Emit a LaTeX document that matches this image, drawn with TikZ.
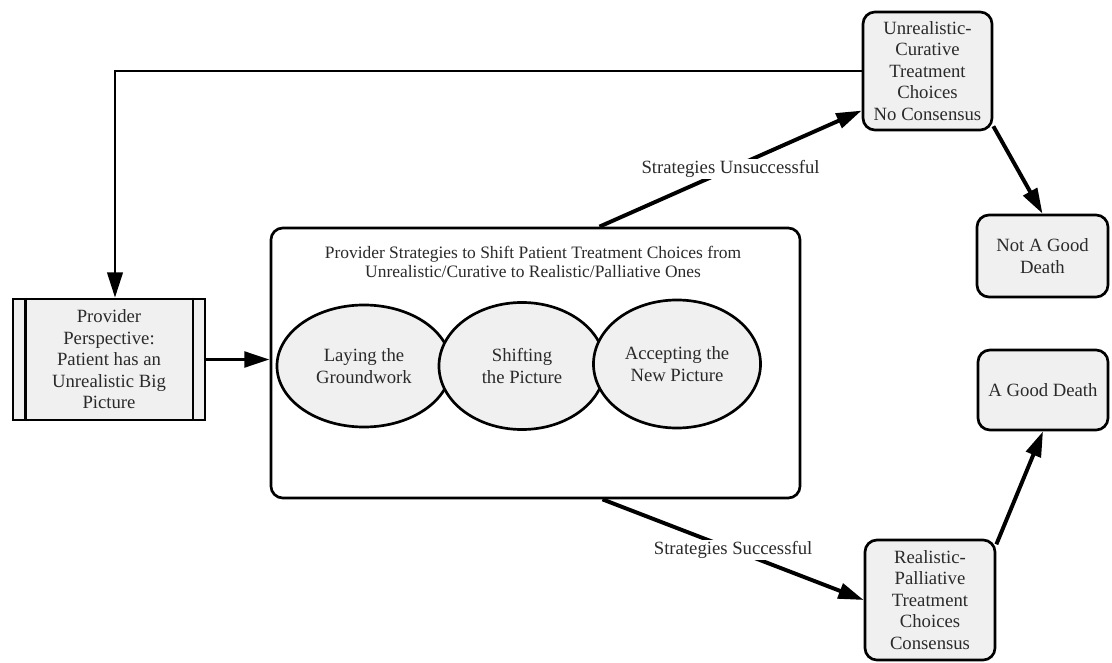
\documentclass[tikz,border=0pt]{standalone}
\usepackage{fontspec}
\setmainfont{Liberation Serif}
\usetikzlibrary{arrows.meta,shapes.geometric}

\definecolor{boxgray}{HTML}{F0F0F0}
\definecolor{txtgray}{HTML}{2A2A2A}

\tikzset{
  outcome/.style={rectangle, rounded corners=0.3cm, draw, line width=1.9pt, fill=boxgray, align=center, text=txtgray, font=\fontsize{13.3}{15.3}\selectfont, inner sep=1pt},
  phase/.style={ellipse, draw, line width=1.9pt, fill=boxgray, align=center, text=txtgray, font=\fontsize{13.3}{15.3}\selectfont},
  flow/.style={-{Triangle[length=18pt,width=11pt]}, line width=2.8pt},
  lbl/.style={fill=white, text=txtgray, font=\fontsize{13.3}{15.3}\selectfont, inner sep=1pt}
}

\begin{document}
\begin{tikzpicture}[x=0.025cm, y=-0.025cm]
			\useasboundingbox (0,0) rectangle (1112,663);
			
			% Starting perspective (box with double sides)
			\node[rectangle, draw, line width=1.9pt, fill=boxgray, minimum width=4.8cm, minimum height=3.025cm, align=center, text=txtgray, font=\fontsize{13.3}{15.3}\selectfont, inner sep=1pt] (prov) at (109,359.5) {Provider\\Perspective:\\Patient has an\\Unrealistic Big\\Picture};
			\draw[line width=1.9pt] ([xshift=0.35cm]prov.north west) -- ([xshift=0.35cm]prov.south west);
			\draw[line width=1.9pt] ([xshift=-0.33cm]prov.north east) -- ([xshift=-0.33cm]prov.south east);
			
			% Big strategies box
			\node[rectangle, rounded corners=0.3cm, draw, line width=1.9pt, fill=white, minimum width=13.225cm, minimum height=6.75cm] (strat) at (535.5,363) {};
			\node[text=txtgray, align=center, font=\fontsize{12.4}{14}\selectfont] (title) at (533,262) {Provider Strategies to Shift Patient Treatment Choices from\\Unrealistic/Curative to Realistic/Palliative Ones};
			
			% Three phases
			\node[phase, minimum width=4.35cm, minimum height=3.05cm] (lay) at (364,366) {Laying the\\Groundwork};
			\node[phase, minimum width=4.15cm, minimum height=3.175cm] (shift) at (522,366) {Shifting\\the Picture};
			\node[phase, minimum width=4.175cm, minimum height=3.2cm] (accept) at (677,364) {Accepting the\\New Picture};
			
			% Treatment choices and outcomes
			\node[outcome, minimum width=3.225cm, minimum height=2.95cm] (unreal) at (927.5,71) {Unrealistic-\\Curative\\Treatment\\Choices\\No Consensus};
			\node[outcome, minimum width=3.275cm, minimum height=2.05cm] (notgood) at (1042.5,256) {Not A Good\\Death};
			\node[outcome, minimum width=3.25cm, minimum height=2cm] (good) at (1043,390) {A Good Death};
			\node[outcome, minimum width=3.25cm, minimum height=3cm] (real) at (930,600) {Realistic-\\Palliative\\Treatment\\Choices\\Consensus};
			
			% Connectors
			\draw[flow, line width=1.9pt] (unreal.west) -| ([xshift=0.15cm]prov.north);
			\draw[flow] (prov.east) -- (prov.east -| strat.west);
			\draw[flow] ([xshift=1.6cm]strat.north) -- node[lbl] {Strategies Unsuccessful} (unreal.211);
			\draw[flow] ([xshift=1.675cm]strat.south) -- node[lbl] {Strategies Successful} (real.west);
			\draw[flow] (unreal.-40) -- (notgood.north);
			\draw[flow] (real.40) -- (good.south);
		\end{tikzpicture}
\end{document}
